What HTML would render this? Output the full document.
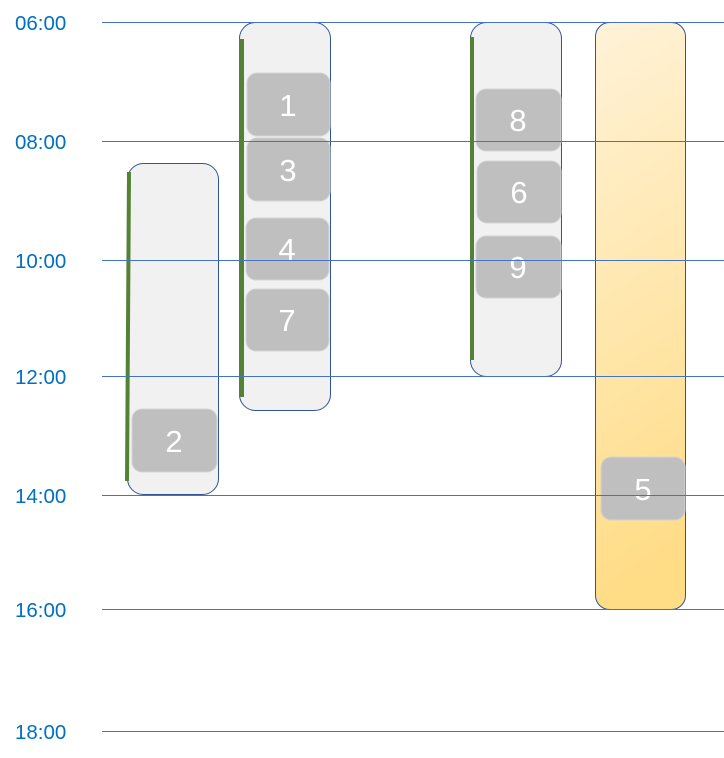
<!DOCTYPE html>
<html><head><meta charset="utf-8"><style>
html,body{margin:0;padding:0;background:#fff;width:724px;height:758px;overflow:hidden}
svg{display:block}
</style></head><body>
<svg width="724" height="758" viewBox="0 0 724 758" xmlns="http://www.w3.org/2000/svg">
<defs>
<linearGradient id="g" x1="0" y1="0" x2="0.1" y2="1">
<stop offset="0" stop-color="#fff2d8"/><stop offset="1" stop-color="#ffdc85"/>
</linearGradient>
</defs>
<g font-family="Liberation Sans, sans-serif" font-size="20.5" fill="#0070c0">
<text x="15" y="30">06:00</text>
<text x="15" y="149">08:00</text>
<text x="15" y="268">10:00</text>
<text x="15" y="384">12:00</text>
<text x="15" y="503">14:00</text>
<text x="15" y="617">16:00</text>
<text x="15" y="739">18:00</text>
</g>
<g stroke="#2f5597" stroke-width="1">
<rect x="127.5" y="163.5" width="91" height="331" rx="16" fill="#f1f1f1"/>
<rect x="239.5" y="22.5" width="91" height="388" rx="16" fill="#f1f1f1"/>
<rect x="470.5" y="22.5" width="91" height="354" rx="16" fill="#f1f1f1"/>
<rect x="595.5" y="22.5" width="90" height="587" rx="14" fill="url(#g)"/>
</g>
<g fill="#548235">
<polygon points="127,172 131,172 129,481 125,481"/>
<rect x="239" y="39" width="5" height="358"/>
<rect x="470" y="37" width="4" height="323"/>
</g>
<g fill="#bfbfbf" stroke="#d4d4d4" stroke-width="1">
<rect x="247" y="73" width="83" height="63" rx="10"/>
<rect x="247" y="138" width="83" height="63" rx="10"/>
<rect x="246" y="218" width="83" height="62" rx="10"/>
<rect x="246" y="289" width="83" height="62" rx="10"/>
<rect x="476" y="89" width="85" height="62" rx="10"/>
<rect x="477" y="161" width="84" height="62" rx="10"/>
<rect x="476" y="236" width="85" height="62" rx="10"/>
<rect x="132" y="409" width="85" height="63" rx="10"/>
<rect x="601" y="457" width="84" height="63" rx="10"/>
</g>
<g font-family="Liberation Sans, sans-serif" font-size="31" fill="#fff" text-anchor="middle">
<text x="288" y="116">1</text>
<text x="288" y="181">3</text>
<text x="287" y="260">4</text>
<text x="287" y="331">7</text>
<text x="518" y="131">8</text>
<text x="519" y="203">6</text>
<text x="518" y="278">9</text>
<text x="174" y="452">2</text>
<text x="643" y="500">5</text>
</g>
<g stroke="#4472c4" stroke-width="1">
<line x1="102" y1="22.5" x2="724" y2="22.5"/>
<line x1="102" y1="141.5" x2="724" y2="141.5"/>
<line x1="102" y1="260.5" x2="724" y2="260.5"/>
<line x1="102" y1="376.5" x2="724" y2="376.5"/>
<line x1="102" y1="495.5" x2="724" y2="495.5"/>
<line x1="102" y1="609.5" x2="724" y2="609.5"/>
<line x1="102" y1="731.5" x2="724" y2="731.5"/>
</g>
</svg>
</body></html>
